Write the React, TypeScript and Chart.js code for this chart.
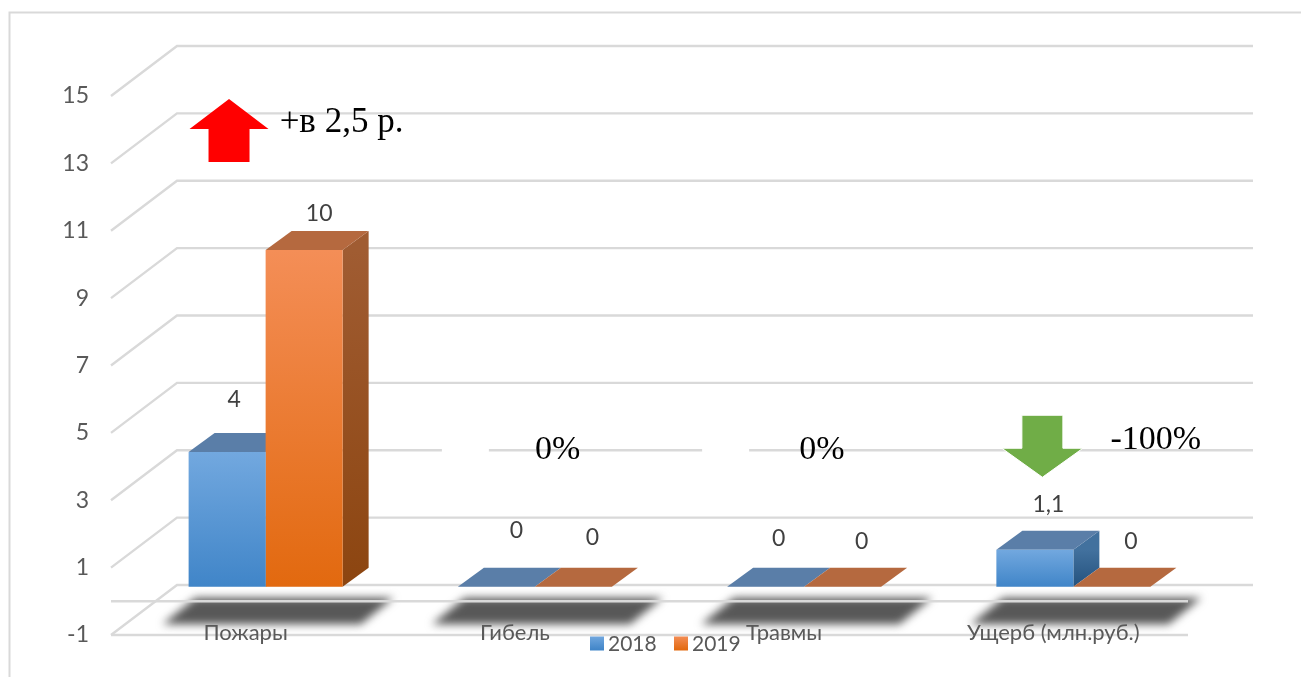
import React, { useEffect, useRef } from "react";
import { Chart, registerables } from "chart.js";

Chart.register(...registerables);

const categories = ["Пожары", "Гибель", "Травмы", "Ущерб (млн.руб.)"];
const series2018 = [4, 0, 0, 1.1];
const series2019 = [10, 0, 0, 0];
const seriesNames = ["2018", "2019"];
const percentNotes = ["+в 2,5 р.", "0%", "0%", "-100%"];

const FONT = "Lato, 'Open Sans', sans-serif";
const SERIF = "'Liberation Serif', serif";
const GRID = "#d9d9d9";
const INK = "#595959";
const DEPTH_X = 66;
const DEPTH_Y = 50;
const BAR_SHIFT_X = 20;
const BAR_SHIFT_Y = -14.5;
const BAR_DX = 26;
const BAR_DY = 19;

const SKIN = [
  { hi: "#72a8df", lo: "#4085c8", top: "#5a7ea8", sideHi: "#42719e", sideLo: "#24527e" },
  { hi: "#f48e57", lo: "#e2690f", top: "#b5693f", sideHi: "#a05c32", sideLo: "#8c4510" },
];
// value label offsets from the top centre of each bar
const LABEL_NUDGE = [
  [[7, -52], [20, -56], [13, -48], [13.5, -45]],
  [[15, -36], [19, -49], [19, -45], [19, -45]],
];

function poly(ctx: CanvasRenderingContext2D, pts: number[][], fill: any) {
  ctx.beginPath();
  pts.forEach((p, i) => (i ? ctx.lineTo(p[0], p[1]) : ctx.moveTo(p[0], p[1])));
  ctx.closePath();
  ctx.fillStyle = fill;
  ctx.fill();
}

const wallPlugin = {
  id: "wall",
  beforeDraw(chart: any) {
    const { ctx, scales, chartArea } = chart;
    const y = scales.y;
    const x = scales.x;
    const L = chartArea.left;
    const R = chartArea.right;
    ctx.save();
    ctx.strokeStyle = GRID;
    // frame
    ctx.lineWidth = 2;
    ctx.strokeRect(9.5, 12.5, 1400, 700);
    // back wall and side wall
    ctx.lineWidth = 2.4;
    y.ticks.forEach((t: any) => {
      const py = y.getPixelForValue(t.value);
      ctx.beginPath();
      ctx.moveTo(L, py);
      ctx.lineTo(L + DEPTH_X, py - DEPTH_Y);
      ctx.lineTo(R + DEPTH_X - 1, py - DEPTH_Y);
      ctx.stroke();
    });
    // shadows
    categories.forEach((_, i) => {
      const c = x.getPixelForValue(i);
      ctx.save();
      ctx.filter = "blur(4px)";
      const fy = y.getPixelForValue(0);
      poly(
        ctx,
        [
          [c - 83, fy + 23],
          [c + 115, fy + 23],
          [c + 148, fy - 3.5],
          [c - 50, fy - 3.5],
        ],
        "#585858"
      );
      ctx.restore();
    });
    // floor front lines
    const floorZero = y.getPixelForValue(0);
    const floorMin = y.getPixelForValue(y.min);
    [floorZero, floorMin].forEach((py) => {
      ctx.beginPath();
      ctx.moveTo(L, py);
      ctx.lineTo(R, py);
      ctx.stroke();
    });
    // white text boxes that interrupt the gridline behind the 0% notes
    const maskY = y.getPixelForValue(3) - DEPTH_Y;
    ctx.fillStyle = "#ffffff";
    [
      [1, -73],
      [2, -82],
    ].forEach(([i, off]) => {
      ctx.fillRect(x.getPixelForValue(i) + off, maskY - 5, 47, 10);
    });
    ctx.restore();
  },
  beforeDatasetsDraw(chart: any) {
    const { ctx } = chart;
    // 3D faces of bars
    ctx.save();
    ctx.translate(BAR_SHIFT_X, BAR_SHIFT_Y);
    chart.data.datasets.forEach((_: any, di: number) => {
      const meta = chart.getDatasetMeta(di);
      const s = SKIN[di];
      meta.data.forEach((bar: any) => {
        const p = bar.getProps(["x", "y", "base", "width"], true);
        const l = p.x - p.width / 2;
        const r = p.x + p.width / 2;
        const h = p.base - p.y;
        if (h > 0.5) {
          const g = ctx.createLinearGradient(0, p.y, 0, p.base);
          g.addColorStop(0, s.sideHi);
          g.addColorStop(1, s.sideLo);
          poly(
            ctx,
            [
              [r, p.y],
              [r + BAR_DX, p.y - BAR_DY],
              [r + BAR_DX, p.base - BAR_DY],
              [r, p.base],
            ],
            g
          );
        }
        poly(
          ctx,
          [
            [l, p.y],
            [r, p.y],
            [r + BAR_DX, p.y - BAR_DY],
            [l + BAR_DX, p.y - BAR_DY],
          ],
          s.top
        );
      });
    });
    ctx.restore();

    ctx.save();
    ctx.translate(BAR_SHIFT_X, BAR_SHIFT_Y);
  },
  afterDatasetsDraw(chart: any) {
    const { ctx, scales } = chart;
    ctx.restore();
    const x = scales.x;
    const y = scales.y;

    // value labels
    ctx.save();
    ctx.font = `23px ${FONT}`;
    ctx.fillStyle = "#404040";
    ctx.textAlign = "center";
    ctx.textBaseline = "middle";
    chart.data.datasets.forEach((ds: any, di: number) => {
      chart.getDatasetMeta(di).data.forEach((bar: any, i: number) => {
        const v = ds.data[i];
        const tx = bar.x + BAR_SHIFT_X + LABEL_NUDGE[di][i][0];
        const ty = bar.y + BAR_SHIFT_Y + LABEL_NUDGE[di][i][1];
        ctx.fillText(String(v).replace(".", ","), tx, ty);
      });
    });
    ctx.restore();

    // red arrow
    ctx.save();
    const cx = x.getPixelForValue.bind(x);
    const a = cx(0) - 16.6;
    const top = y.getPixelForValue(15) + 3;
    poly(
      ctx,
      [
        [a, top],
        [a + 39.5, top + 30],
        [a + 20.5, top + 30],
        [a + 20.5, top + 63],
        [a - 20.5, top + 63],
        [a - 20.5, top + 30],
        [a - 39.5, top + 30],
      ],
      "#ff0000"
    );
    // green arrow
    const b = cx(3) - 11;
    const gTop = y.getPixelForValue(3) - DEPTH_Y - 35;
    ctx.strokeStyle = "#ffffff";
    ctx.lineWidth = 1;
    poly(
      ctx,
      [
        [b - 20.5, gTop],
        [b + 20.5, gTop],
        [b + 20.5, gTop + 33],
        [b + 40.5, gTop + 33],
        [b, gTop + 62],
        [b - 40.5, gTop + 33],
        [b - 20.5, gTop + 33],
      ],
      "#70ad47"
    );
    ctx.stroke();

    // notes
    ctx.fillStyle = "#000000";
    ctx.textBaseline = "alphabetic";
    ctx.textAlign = "left";
    ctx.font = `35px ${SERIF}`;
    ctx.fillText(percentNotes[0], cx(0) + 34, 132);
    ctx.font = `34px ${SERIF}`;
    ctx.fillText(percentNotes[1], cx(1) + 20, 459);
    ctx.fillText(percentNotes[2], cx(2) + 15, 459);
    ctx.fillText(percentNotes[3], cx(3) + 57, 449);
    ctx.restore();

    // legend
    ctx.save();
    ctx.font = `21px ${FONT}`;
    ctx.fillStyle = INK;
    ctx.textBaseline = "middle";
    ctx.textAlign = "left";
    const legendX = [590, 674];
    chart.data.datasets.forEach((ds: any, di: number) => {
      const lx = legendX[di];
      const g = ctx.createLinearGradient(0, 636, 0, 650);
      g.addColorStop(0, SKIN[di].hi);
      g.addColorStop(1, SKIN[di].lo);
      ctx.fillStyle = g;
      ctx.fillRect(lx, 636.5, 14, 14);
      ctx.fillStyle = INK;
      ctx.fillText(ds.label, lx + 18, 644);
    });
    ctx.restore();
  },
};

export default function App() {
  const ref = useRef<HTMLCanvasElement>(null);
  useEffect(() => {
    document.body.style.margin = "0";
    const canvas = ref.current!;
    const ctx = canvas.getContext("2d")!;
    const fill = (di: number) => (c: any) => {
      const ys = c.chart.scales.y;
      if (!c.chart.chartArea || !ys || typeof c.raw !== "number" || c.raw === 0) return SKIN[di].lo;
      const g = ctx.createLinearGradient(0, ys.getPixelForValue(c.raw), 0, ys.getPixelForValue(0));
      g.addColorStop(0, SKIN[di].hi);
      g.addColorStop(1, SKIN[di].lo);
      return g;
    };
    const chart = new Chart(canvas, {
      type: "bar",
      data: {
        labels: categories,
        datasets: [
          { label: seriesNames[0], data: series2018, backgroundColor: fill(0), clip: false },
          { label: seriesNames[1], data: series2019, backgroundColor: fill(1), clip: false },
        ],
      } as any,
      options: {
        responsive: false,
        animation: false,
        devicePixelRatio: 1,
        datasets: { bar: { categoryPercentage: 0.572, barPercentage: 1 } },
        layout: { padding: { left: 0, right: 113, top: 96, bottom: 0 } },
        plugins: { legend: { display: false }, tooltip: { enabled: false }, title: { display: false } },
        scales: {
          x: {
            grid: { display: false },
            border: { display: false },
            ticks: { color: INK, font: { family: FONT, size: 22 }, padding: -23, maxRotation: 0, autoSkip: false },
            afterFit(s: any) {
              s.height = 42;
              // the category labels sit over the floor, above the axis box
              s._computeLabelArea = () => undefined;
            },
          },
          y: {
            min: -1,
            max: 15,
            grid: { display: false },
            border: { display: false },
            ticks: { stepSize: 2, color: INK, font: { family: FONT, size: 23 }, padding: 14 },
            afterFit(s: any) {
              s.width = 111;
            },
          },
        },
      } as any,
      plugins: [wallPlugin],
    });
    return () => chart.destroy();
  }, []);
  return <canvas ref={ref} width={1301} height={677} style={{ display: "block" }} />;
}
